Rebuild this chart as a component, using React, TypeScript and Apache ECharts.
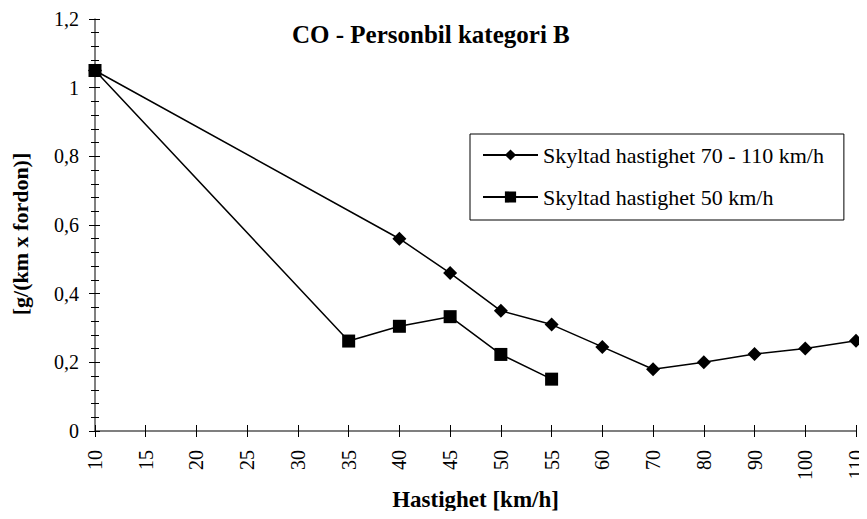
import React, { useEffect, useRef } from "react";
import * as echarts from "echarts";

const categories = ["10", "15", "20", "25", "30", "35", "40", "45", "50", "55", "60", "70", "80", "90", "100", "110"];
const seriesNames = ["Skyltad hastighet 70 - 110 km/h", "Skyltad hastighet 50 km/h"];
const speed70to110 = [1.05, null, null, null, null, null, 0.56, 0.46, 0.35, 0.31, 0.245, 0.18, 0.2, 0.224, 0.24, 0.263];
const speed50 = [1.05, null, null, null, null, 0.262, 0.305, 0.333, 0.223, 0.151, null, null, null, null, null, null];
const titleText = "CO - Personbil kategori B";
const xAxisName = "Hastighet [km/h]";
const yAxisName = "[g/(km x fordon)]";

const FONT = "Liberation Serif";

export default function App() {
  const ref = useRef<HTMLDivElement>(null);
  useEffect(() => {
    if (!ref.current) return;
    const chart = echarts.init(ref.current, undefined, { renderer: "svg" });
    const fmt = (v: number) => String(Number(v.toFixed(2))).replace(".", ",");
    const yCommon = {
      type: "value",
      min: 0,
      max: 1.2,
      interval: 0.2,
      splitLine: { show: false },
    };
    chart.setOption({
      animation: false,
      backgroundColor: "#fff",
      textStyle: { fontFamily: FONT },
      title: {
        text: titleText,
        left: 292,
        top: 22,
        padding: 0,
        textStyle: { fontFamily: FONT, fontSize: 25, fontWeight: "bold", color: "#000" },
      },
      legend: {
        orient: "vertical",
        left: 470,
        top: 134,
        padding: [10, 20, 12, 12],
        itemGap: 20,
        itemWidth: 55,
        itemHeight: 14,
        borderColor: "#000",
        borderWidth: 1,
        data: seriesNames,
        textStyle: { fontFamily: FONT, fontSize: 22, color: "#000", lineHeight: 20 },
      },
      grid: { left: 95, right: 11, top: 19, bottom: 88, containLabel: false },
      xAxis: [
        {
          type: "category",
          data: categories,
          boundaryGap: false,
          position: "bottom",
          name: xAxisName,
          nameLocation: "middle",
          nameGap: 56,
          nameTextStyle: { fontFamily: FONT, fontSize: 23, fontWeight: "bold", color: "#000" },
          axisLine: { lineStyle: { color: "#555", width: 1.5 } },
          axisTick: { length: 6, lineStyle: { color: "#000", width: 1 } },
          axisLabel: { rotate: 90, margin: 19, fontFamily: FONT, fontSize: 20, color: "#000", interval: 0 },
          splitLine: { show: false },
        },
        {
          type: "category",
          data: categories,
          boundaryGap: false,
          position: "bottom",
          axisLine: { show: false },
          axisTick: { inside: true, length: 6, lineStyle: { color: "#000", width: 1 } },
          axisLabel: { show: false },
          splitLine: { show: false },
        },
      ],
      yAxis: [
        {
          ...yCommon,
          position: "left",
          name: yAxisName,
          nameLocation: "middle",
          nameRotate: 90,
          nameGap: 64,
          nameTextStyle: { fontFamily: FONT, fontSize: 22, fontWeight: "bold", color: "#000", padding: [0, 18, 0, 0] },
          axisLine: { show: true, lineStyle: { color: "#555", width: 1.5 } },
          axisTick: { show: true, length: 6, lineStyle: { color: "#000", width: 1 } },
          minorTick: { show: true, splitNumber: 5, length: 4, lineStyle: { color: "#000", width: 1 } },
          axisLabel: { margin: 16, fontFamily: FONT, fontSize: 20, color: "#000", formatter: fmt },
        },
        {
          ...yCommon,
          position: "left",
          axisLine: { show: false },
          axisTick: { show: true, inside: true, length: 5, lineStyle: { color: "#000", width: 1 } },
          minorTick: { show: true, splitNumber: 5, length: 4, lineStyle: { color: "#000", width: 1 } },
          axisLabel: { show: false },
        },
      ],
      series: [
        {
          name: seriesNames[0],
          type: "line",
          xAxisIndex: 0,
          yAxisIndex: 0,
          data: speed70to110,
          connectNulls: true,
          symbol: "diamond",
          symbolSize: 14,
          lineStyle: { color: "#000", width: 1.5 },
          itemStyle: { color: "#000" },
        },
        {
          name: seriesNames[1],
          type: "line",
          xAxisIndex: 0,
          yAxisIndex: 0,
          data: speed50,
          connectNulls: true,
          symbol: "rect",
          symbolSize: 13,
          lineStyle: { color: "#000", width: 1.5 },
          itemStyle: { color: "#000" },
        },
      ],
    });
    return () => chart.dispose();
  }, []);
  return <div ref={ref} style={{ width: 867, height: 519, margin: -8 }} />;
}
